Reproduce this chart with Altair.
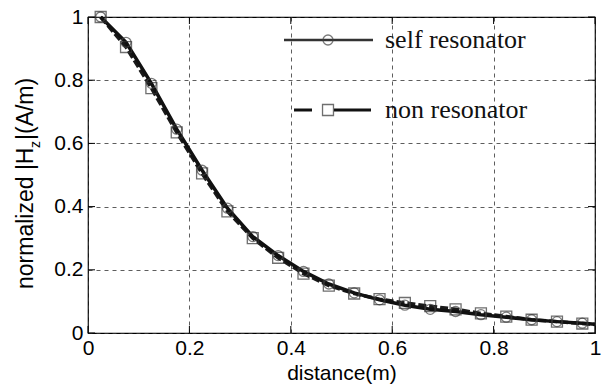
import altair as alt
import pandas as pd

# ---- data ----
distance = [0.025, 0.075, 0.125, 0.175, 0.225, 0.275, 0.325, 0.375, 0.425, 0.475,
            0.525, 0.575, 0.625, 0.675, 0.725, 0.775, 0.825, 0.875, 0.925, 0.975]
self_res = [1.0, 0.92, 0.79, 0.645, 0.515, 0.395, 0.305, 0.245, 0.195, 0.155,
            0.127, 0.105, 0.088, 0.075, 0.068, 0.058, 0.05, 0.042, 0.036, 0.031]
non_res = [1.0, 0.905, 0.775, 0.635, 0.505, 0.385, 0.30, 0.238, 0.188, 0.15,
           0.125, 0.107, 0.095, 0.085, 0.075, 0.062, 0.052, 0.042, 0.036, 0.03]
end_distance = 1.0
end_self = 0.028
end_non = 0.027
series_names = ["self resonator", "non resonator"]
ticks = [0, 0.2, 0.4, 0.6, 0.8, 1.0]

W, H = 507, 316
FONT = "Liberation Sans"
SERIF = "Liberation Serif"

pts = pd.DataFrame({"d": distance * 2,
                    "v": self_res + non_res,
                    "s": [series_names[0]] * len(distance) + [series_names[1]] * len(distance)})
line_self = pd.DataFrame({"d": distance + [end_distance], "v": self_res + [end_self]})
line_non = pd.DataFrame({"d": distance + [end_distance], "v": non_res + [end_non]})
tick_df = pd.DataFrame({"t": ticks})

xs = alt.Scale(domain=[0, 1], nice=False, zero=False)
ys = alt.Scale(domain=[0, 1], nice=False, zero=False)

x_axis = alt.Axis(values=ticks, format="~g", title="distance(m)", grid=True,
                  gridDash=[4, 4], gridColor="#333", gridWidth=0.8, ticks=False,
                  domain=False, labelFont=FONT, labelFontSize=21, labelColor="#000",
                  labelPadding=4, titleFont=FONT, titleFontSize=21, titleFontWeight="normal",
                  titleColor="#000", titlePadding=4, labelFlush=False)
y_axis = alt.Axis(values=ticks, format="~g", title=None, grid=True,
                  gridDash=[4, 4], gridColor="#333", gridWidth=0.8, ticks=False,
                  domain=False, labelFont=FONT, labelFontSize=21, labelColor="#000",
                  labelPadding=5, labelFlush=False)

base = alt.Chart(pts)

grid_layer = alt.Chart(tick_df).mark_point(opacity=0).encode(
    x=alt.X("t:Q", scale=xs, axis=x_axis),
    y=alt.Y("t:Q", scale=ys, axis=y_axis),
)

# inward tick marks (MATLAB style)
tk = alt.Chart(tick_df)
tick_bottom = tk.mark_rule(color="#000", strokeWidth=1).encode(
    x=alt.X("t:Q", scale=xs), y=alt.value(H), y2=alt.value(H - 7))
tick_top = tk.mark_rule(color="#000", strokeWidth=1).encode(
    x=alt.X("t:Q", scale=xs), y=alt.value(0), y2=alt.value(7))
tick_left = tk.mark_rule(color="#000", strokeWidth=1).encode(
    y=alt.Y("t:Q", scale=ys), x=alt.value(0), x2=alt.value(7))
tick_right = tk.mark_rule(color="#000", strokeWidth=1).encode(
    y=alt.Y("t:Q", scale=ys), x=alt.value(W), x2=alt.value(W - 7))

l_self = alt.Chart(line_self).mark_line(color="#111", strokeWidth=3.5).encode(
    x=alt.X("d:Q", scale=xs), y=alt.Y("v:Q", scale=ys))
l_non = alt.Chart(line_non).mark_line(color="#1a1a1a", strokeWidth=3.5, strokeDash=[8, 3]).encode(
    x=alt.X("d:Q", scale=xs), y=alt.Y("v:Q", scale=ys))

p_self = base.transform_filter(alt.datum.s == series_names[0]).mark_point(
    shape="circle", filled=False, size=100, color="#444", strokeWidth=1.3).encode(
    x=alt.X("d:Q", scale=xs), y=alt.Y("v:Q", scale=ys))
p_non = base.transform_filter(alt.datum.s == series_names[1]).mark_point(
    shape="square", filled=False, size=120, color="#333", strokeWidth=1.3).encode(
    x=alt.X("d:Q", scale=xs), y=alt.Y("v:Q", scale=ys))

# manual legend (no box)
leg = alt.Chart(pd.DataFrame({"k": [0]}))
leg_self_line = leg.mark_rule(color="#333", strokeWidth=2.5).encode(
    x=alt.value(196), x2=alt.value(285), y=alt.value(23))
leg_self_pt = leg.mark_point(shape="circle", filled=False, size=100, color="#444", strokeWidth=1.3).encode(
    x=alt.value(240), y=alt.value(23))
leg_self_txt = leg.mark_text(align="left", baseline="middle", font=SERIF, fontSize=26, color="#111").encode(
    x=alt.value(297), y=alt.value(23), text=alt.value(series_names[0]))
leg_non_dash = leg.mark_rule(color="#111", strokeWidth=3).encode(
    x=alt.value(206), x2=alt.value(224), y=alt.value(93))
leg_non_line = leg.mark_rule(color="#111", strokeWidth=3).encode(
    x=alt.value(246), x2=alt.value(283), y=alt.value(93))
leg_non_pt = leg.mark_point(shape="square", filled=False, size=120, color="#333", strokeWidth=1.3).encode(
    x=alt.value(240), y=alt.value(93))
leg_non_txt = leg.mark_text(align="left", baseline="middle", font=SERIF, fontSize=26, color="#111").encode(
    x=alt.value(297), y=alt.value(93), text=alt.value(series_names[1]))

# y-axis title with subscript
yt1 = leg.mark_text(align="left", baseline="alphabetic", angle=270, font=FONT, fontSize=23, color="#000").encode(
    x=alt.value(-55), y=alt.value(272), text=alt.value("normalized |H"))
yt2 = leg.mark_text(align="left", baseline="alphabetic", angle=270, font=FONT, fontSize=14, color="#000").encode(
    x=alt.value(-48), y=alt.value(131), text=alt.value("z"))
yt3 = leg.mark_text(align="left", baseline="alphabetic", angle=270, font=FONT, fontSize=23, color="#000").encode(
    x=alt.value(-55), y=alt.value(123), text=alt.value("|(A/m)"))

chart = alt.layer(
    grid_layer, tick_bottom, tick_top, tick_left, tick_right,
    l_non, l_self, p_self, p_non,
    leg_self_line, leg_self_pt, leg_self_txt, leg_non_dash, leg_non_line, leg_non_pt, leg_non_txt,
    yt1, yt2, yt3,
).properties(
    width=W, height=H,
    autosize=alt.AutoSizeParams(type="none"),
    padding={"left": 88, "top": 17, "right": 11, "bottom": 55},
    background="white",
).configure_view(stroke="#000", strokeWidth=1.2)

chart.save("out.html", embed_options={"renderer": "svg", "actions": False})
